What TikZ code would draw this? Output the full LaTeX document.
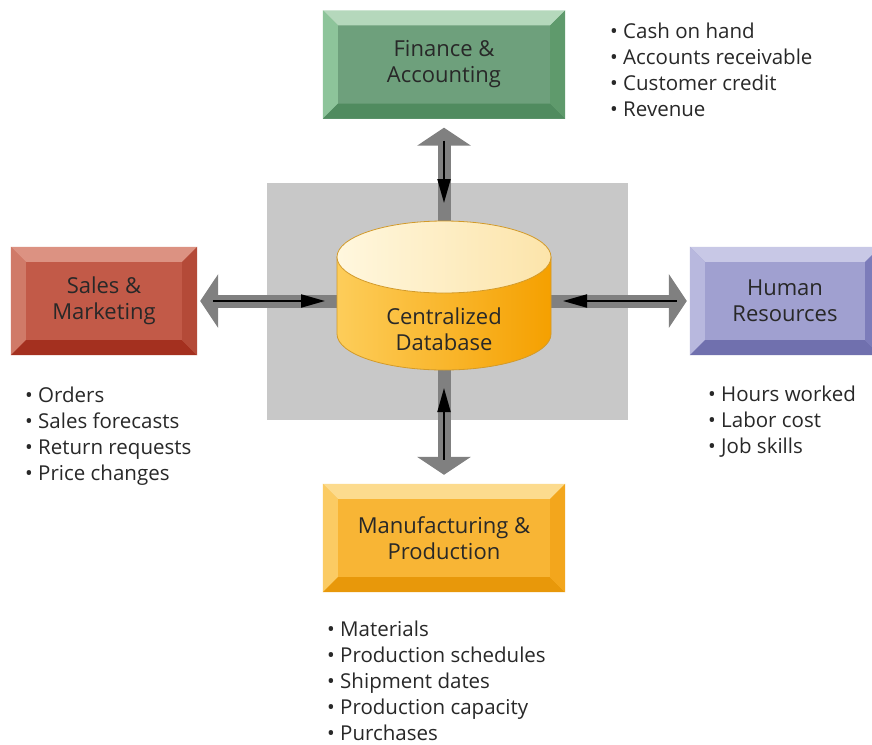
\documentclass[tikz,border=0pt]{standalone}
\usepackage{fontspec}
\setmainfont{Open Sans}
\usetikzlibrary{arrows.meta,calc}
\definecolor{bggray}{RGB}{200,200,200}
\definecolor{arrgray}{RGB}{128,128,128}
\definecolor{txt}{RGB}{40,40,40}
\definecolor{finface}{RGB}{110,160,124}
\definecolor{fintop}{RGB}{181,216,188}
\definecolor{finleft}{RGB}{141,196,154}
\definecolor{finbot}{RGB}{80,139,95}
\definecolor{finright}{RGB}{95,154,108}
\definecolor{salface}{RGB}{194,90,72}
\definecolor{saltop}{RGB}{220,146,130}
\definecolor{salleft}{RGB}{208,122,104}
\definecolor{salbot}{RGB}{164,48,31}
\definecolor{salright}{RGB}{180,74,56}
\definecolor{hrface}{RGB}{160,160,208}
\definecolor{hrtop}{RGB}{200,200,230}
\definecolor{hrleft}{RGB}{184,184,222}
\definecolor{hrbot}{RGB}{112,112,174}
\definecolor{hrright}{RGB}{124,124,186}
\definecolor{mfgface}{RGB}{248,181,53}
\definecolor{mfgtop}{RGB}{252,219,142}
\definecolor{mfgleft}{RGB}{251,203,99}
\definecolor{mfgbot}{RGB}{232,152,10}
\definecolor{mfgright}{RGB}{243,166,28}
\definecolor{cylL}{RGB}{253,205,90}
\definecolor{cylR}{RGB}{245,160,0}
\definecolor{capL}{RGB}{255,247,222}
\definecolor{capR}{RGB}{252,228,170}
\definecolor{cyledge}{RGB}{210,154,42}
\def\bvw{15}
\newcommand\bevel[5]{%
 \fill[#2] (#1.north west) -- (#1.north east) -- ($(#1.north east)+(-\bvw,\bvw)$) -- ($(#1.north west)+(\bvw,\bvw)$) -- cycle;
 \fill[#3] (#1.north west) -- ($(#1.north west)+(\bvw,\bvw)$) -- ($(#1.south west)+(\bvw,-\bvw)$) -- (#1.south west) -- cycle;
 \fill[#4] (#1.south west) -- ($(#1.south west)+(\bvw,-\bvw)$) -- ($(#1.south east)+(-\bvw,-\bvw)$) -- (#1.south east) -- cycle;
 \fill[#5] (#1.south east) -- ($(#1.south east)+(-\bvw,-\bvw)$) -- ($(#1.north east)+(-\bvw,\bvw)$) -- (#1.north east) -- cycle;}
\begin{document}
\begin{tikzpicture}[x=1pt,y=-1pt,
  boxnode/.style={inner sep=0pt, minimum height=108pt, align=center, text=txt,
    font=\fontsize{22}{26}\selectfont},
  garrow/.style={line width=13pt, draw=arrgray, -{Triangle[width=53pt,length=18pt]}},
  barrow/.style={line width=2pt, draw=black, -{Triangle[width=13pt,length=24pt]}},
  item/.style={anchor=base west, inner sep=0pt, text=txt, font=\fontsize{20.5}{22}\selectfont}]
\useasboundingbox (0,0) rectangle (872,744);
\clip (0,0) rectangle (872,744);
\fill[white] (0,0) rectangle (872,744);
% gray background
\fill[bggray] (267,183) rectangle (628,420);
% boxes
\node[boxnode, fill=finface, minimum width=242pt] (fin) at (444,64.5) {Finance \&\\Accounting};
\bevel{fin}{fintop}{finleft}{finbot}{finright}
\node[boxnode, fill=salface, minimum width=186pt] (sal) at (104,301) {Sales \&\\Marketing};
\bevel{sal}{saltop}{salleft}{salbot}{salright}
\node[boxnode, fill=hrface, minimum width=190pt] (hr) at (785,301) {Human\\Resources};
\bevel{hr}{hrtop}{hrleft}{hrbot}{hrright}
\node[boxnode, fill=mfgface, minimum width=242pt] (mfg) at (444,538) {Manufacturing \&\\Production};
\bevel{mfg}{mfgtop}{mfgleft}{mfgbot}{mfgright}
% cylinder edge points
\coordinate (cyT) at (444,221);
\coordinate (cyB) at (444,370);
\coordinate (cyL) at (337,301);
\coordinate (cyR) at (551,301);
% gray arrows
\draw[garrow, shorten >=9pt] (cyT) -- (fin.south);
\draw[garrow, shorten >=3pt] (cyL) -- (sal.east);
\draw[garrow, shorten >=3pt] (cyR) -- (hr.west);
\draw[garrow, shorten >=9pt] (cyB) -- (mfg.north);
% black arrows
\draw[barrow, shorten <=22pt, shorten >=18pt] (fin.south) -- (cyT);
\draw[barrow, shorten <=16pt, shorten >=12pt] (sal.east) -- (cyL);
\draw[barrow, shorten <=13pt, shorten >=12pt] (hr.west) -- (cyR);
\draw[barrow, shorten <=24pt, shorten >=18pt] (mfg.north) -- (cyB);
% cylinder
\shade[left color=cylL, right color=cylR, draw=cyledge, line width=0.8pt]
  (337,257) -- (337,334) arc[start angle=180, end angle=0, x radius=107, y radius=36] -- (551,257) -- cycle;
\shade[left color=capL, right color=capR, draw=cyledge, line width=0.8pt]
  (444,257) ellipse [x radius=107, y radius=36];
\node[inner sep=0pt, align=center, text=txt, font=\fontsize{22}{26}\selectfont] (db) at (444,329) {Centralized\\Database};
% lists
\foreach \t [count=\i] in {Cash on hand, Accounts receivable, Customer credit, Revenue}
  \node[item] (finl\i) at ({610},{38+26*(\i-1)}) {• \t};
\foreach \t [count=\i] in {Orders, Sales forecasts, Return requests, Price changes}
  \node[item] (sall\i) at ({25},{402+26*(\i-1)}) {• \t};
\foreach \t [count=\i] in {Hours worked, Labor cost, Job skills}
  \node[item] (hrl\i) at ({708},{401+26*(\i-1)}) {• \t};
\foreach \t [count=\i] in {Materials, Production schedules, Shipment dates, Production capacity, Purchases}
  \node[item] (mfgl\i) at ({327},{636+26*(\i-1)}) {• \t};
\end{tikzpicture}
\end{document}
